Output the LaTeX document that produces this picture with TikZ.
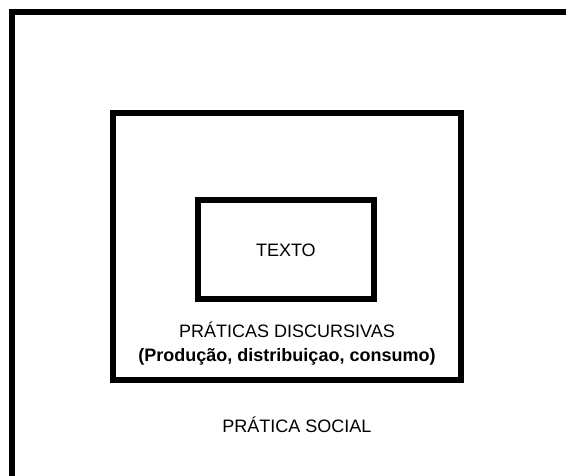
\documentclass[tikz,border=0pt]{standalone}
\usepackage{fontspec}
\setmainfont{Liberation Sans}
\tikzset{
    caixa/.style={rectangle, draw, line width=6pt, inner sep=0},
    rotulo/.style={inner sep=0, font=\fontsize{18}{21}\selectfont},
    subrotulo/.style={inner sep=0, font=\fontsize{18}{21}\selectfont\bfseries},
}
\begin{document}
\begin{tikzpicture}[x=1pt, y=1pt]
        \useasboundingbox (0,0) rectangle (566,475);
        \clip (0,0) rectangle (566,475);
        %
        % Boxes
        \node[caixa, minimum width=578.5pt, minimum height=482.5pt] (social) at (300.75,221.25) {};
        \node[caixa, minimum width=348.8pt, minimum height=267.3pt] (discursiva) at (286.9,228.35) {};
        \node[caixa, minimum width=176.8pt, minimum height=98.8pt] (texto) at (285.9,225.1) {};
        %
        % Labels
        \node[rotulo] (textoL) at (texto.center) {TEXTO};
        \node[rotulo] (discursivaL) at (287,145) {PRÁTICAS DISCURSIVAS};
        \node[subrotulo] (discursivaS) at (287,118) {(Produção, distribuiçao, consumo)};
        \node[rotulo] (socialL) at (297,50) {PRÁTICA SOCIAL};
\end{tikzpicture}
\end{document}
